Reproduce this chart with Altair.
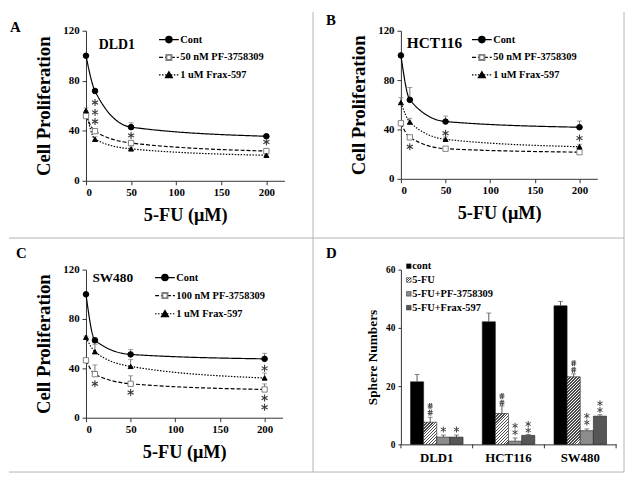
import altair as alt
import pandas as pd

FONT = "Liberation Serif"

# ---------------- data ----------------
doses = [0, 10, 50, 200]
series_keys = ["Cont", "PF", "Frax"]

A_legend = ["Cont", "50 nM PF-3758309", "1 uM Frax-597"]
A_cont = [100, 71.8, 42.9, 35.6]
A_cont_err = [0, 1.5, 3.5, 1.0]
A_pf = [51.8, 39.7, 30.2, 23.8]
A_pf_err = [2.0, 1.5, 1.5, 1.5]
A_frax = [56.2, 33.2, 25.5, 20.4]
A_frax_err = [2.0, 2.0, 1.5, 1.0]
A_star_x = [10, 10, 10, 50, 200]
A_star_y = [62.6, 54.7, 47.4, 36.3, 31.0]

B_legend = ["Cont", "50 nM PF-3758309", "1 uM Frax-597"]
B_cont = [100, 64.0, 46.4, 41.8]
B_cont_err = [0, 10.0, 4.5, 5.0]
B_pf = [45.0, 33.6, 24.4, 21.6]
B_pf_err = [1.0, 1.0, 1.0, 1.0]
B_frax = [61.8, 46.0, 32.0, 26.0]
B_frax_err = [4.0, 3.0, 2.0, 2.0]
B_star_x = [10, 50, 200]
B_star_y = [26.0, 37.0, 33.0]

C_legend = ["Cont", "100 nM PF-3758309", "1 uM Frax-597"]
C_cont = [100, 62.7, 51.3, 47.7]
C_cont_err = [0, 2.0, 4.0, 4.5]
C_pf = [46.5, 35.3, 27.5, 22.9]
C_pf_err = [1.0, 7.5, 6.5, 4.5]
C_frax = [65.2, 53.5, 41.6, 32.2]
C_frax_err = [1.0, 6.0, 5.5, 4.0]
C_star_x = [10, 50, 200, 200, 200]
C_star_y = [27.5, 20.5, 40.0, 16.0, 8.5]

cell_lines = ["DLD1", "HCT116", "SW480"]
treatments = ["cont", "5-FU", "5-FU+PF-3758309", "5-FU+Frax-597"]
sph_cont = [21.5, 42.1, 47.6]
sph_cont_err = [2.5, 3.0, 1.5]
sph_5fu = [7.6, 10.6, 23.2]
sph_5fu_err = [1.7, 2.6, 1.0]
sph_pf = [2.5, 1.1, 4.7]
sph_pf_err = [0.7, 1.1, 0.6]
sph_frax = [2.5, 3.1, 9.7]
sph_frax_err = [0.7, 0.3, 0.5]

ann_cell = ["DLD1", "DLD1", "DLD1", "DLD1",
            "HCT116", "HCT116", "HCT116", "HCT116", "HCT116", "HCT116",
            "SW480", "SW480", "SW480", "SW480", "SW480", "SW480"]
ann_treat = ["5-FU", "5-FU", "5-FU+PF-3758309", "5-FU+Frax-597",
             "5-FU", "5-FU", "5-FU+PF-3758309", "5-FU+PF-3758309", "5-FU+Frax-597", "5-FU+Frax-597",
             "5-FU", "5-FU", "5-FU+PF-3758309", "5-FU+PF-3758309", "5-FU+Frax-597", "5-FU+Frax-597"]
ann_y = [13.2, 10.9, 5.1, 5.1,
         16.6, 14.3, 6.4, 4.1, 7.0, 4.8,
         27.9, 25.6, 9.8, 7.5, 14.1, 11.8]
ann_sym = ["#", "#", "*", "*",
           "#", "#", "*", "*", "*", "*",
           "#", "#", "*", "*", "*", "*"]

FRAME = "#b3b3b3"
AXC = "#333333"
STAR_PATH = "M0,-1L0,1M-0.87,-0.5L0.87,0.5M-0.87,0.5L0.87,-0.5"
HASH_PATH = "M-0.2,-1L-0.4,1M0.4,-1L0.2,1M-0.85,-0.33L0.85,-0.33M-0.85,0.33L0.85,0.33"
TREAT_FILL = {"cont": "#000000", "5-FU+PF-3758309": "#8c8c8c", "5-FU+Frax-597": "#565656"}


def one():
    return pd.DataFrame({"k": [0]})


def hatch(w, h, period=3.0, frac=0.45, dark="#4a4a4a", light="#ffffff"):
    r = h / w
    s = (1 + r) / (1 + r * r)
    n = max(1, int(round((w + h) / period)))
    pt = 1.0 / n
    stops = []
    for k in range(n):
        t0 = k * pt
        t1 = t0 + pt * frac
        t2 = min(1.0, t0 + pt)
        stops += [{"offset": round(t0, 5), "color": dark}, {"offset": round(t1, 5), "color": dark},
                  {"offset": round(t1, 5), "color": light}, {"offset": round(t2, 5), "color": light}]
    return {"gradient": "linear", "x1": 0, "y1": 0, "x2": s, "y2": s * r, "stops": stops}


def frame_rule(x, y, x2=None, y2=None):
    enc = dict(x=alt.value(x), y=alt.value(y))
    if x2 is not None:
        enc["x2"] = alt.value(x2)
    if y2 is not None:
        enc["y2"] = alt.value(y2)
    return alt.Chart(one()).mark_rule(color=FRAME, strokeWidth=1).encode(**enc)


def label_text(txt, x, y, size, align="left"):
    return alt.Chart(one()).mark_text(
        text=txt, font=FONT, fontWeight="bold", fontSize=size, color="black",
        align=align, baseline="middle"
    ).encode(x=alt.value(x), y=alt.value(y))


DASHES = {"Cont": [1, 0], "PF": [4, 2], "Frax": [1.5, 1.5]}
SHAPES = {"Cont": "circle", "PF": "square", "Frax": "triangle-up"}
FILLS = {"Cont": "black", "PF": "white", "Frax": "black"}
STROKES = {"Cont": "black", "PF": "#808080", "Frax": "black"}
SIZES = {"Cont": 32, "PF": 26, "Frax": 34}


def line_panel(W, H, letter, letter_xy, cell, cell_xy, cell_size,
               legend_labels, leg_x, leg_rows,
               cont, cont_err, pf, pf_err, frax, frax_err, star_x, star_y, extras):
    rows = []
    for key, vals, errs in (("Cont", cont, cont_err), ("PF", pf, pf_err), ("Frax", frax, frax_err)):
        for d, v, e in zip(doses, vals, errs):
            rows.append({"dose": d, "value": v, "err": e, "top": v + e, "series": key})
    df = pd.DataFrame(rows)
    df_err = df[df["err"] > 0]

    x = alt.X("dose:Q", scale=alt.Scale(domain=[0, 220], nice=False),
              axis=alt.Axis(values=[0, 50, 100, 150, 200], title="5-FU (μM)",
                            titleFont=FONT, titleFontSize=18.5, titleFontWeight="bold", titleColor="black",
                            titleX=W / 2, titleY=34, titleBaseline="middle", titleAlign="center",
                            labelFont=FONT, labelFontSize=11, labelFontWeight="bold", labelColor="black",
                            labelPadding=2, tickSize=4, tickColor=AXC, domainColor=AXC, grid=False))
    y = alt.Y("value:Q", scale=alt.Scale(domain=[0, 120], nice=False),
              axis=alt.Axis(values=[0, 20, 40, 60, 80, 100, 120], title="Cell Proliferation",
                            titleFont=FONT, titleFontSize=19, titleFontWeight="bold", titleColor="black",
                            titleX=-43, titleY=H / 2, titleAngle=270, titleBaseline="middle", titleAlign="center",
                            labelFont=FONT, labelFontSize=11, labelFontWeight="bold", labelColor="black",
                            labelPadding=3, tickSize=4, tickColor=AXC, domainColor=AXC, grid=False))

    dash = alt.StrokeDash("series:N", scale=alt.Scale(domain=series_keys, range=[DASHES[k] for k in series_keys]), legend=None)
    shape = alt.Shape("series:N", scale=alt.Scale(domain=series_keys, range=[SHAPES[k] for k in series_keys]), legend=None)
    fill = alt.Fill("series:N", scale=alt.Scale(domain=series_keys, range=[FILLS[k] for k in series_keys]), legend=None)
    stroke = alt.Stroke("series:N", scale=alt.Scale(domain=series_keys, range=[STROKES[k] for k in series_keys]), legend=None)
    size = alt.Size("series:N", scale=alt.Scale(domain=series_keys, range=[SIZES[k] for k in series_keys]), legend=None)

    err_rule = alt.Chart(df_err).mark_rule(color="#777777", strokeWidth=1).encode(x=x, y=y, y2="top:Q")
    err_cap = alt.Chart(df_err).mark_tick(orient="horizontal", size=5, thickness=1, color="#777777").encode(
        x=x, y=alt.Y("top:Q"))
    line = alt.Chart(df).mark_line(interpolate="monotone", color="black", strokeWidth=1.2).encode(
        x=x, y=y, strokeDash=dash, order="dose:Q")
    pts = alt.Chart(df).mark_point(filled=True, opacity=1, strokeWidth=1).encode(
        x=x, y=y, shape=shape, fill=fill, stroke=stroke, size=size)
    stars = alt.Chart(pd.DataFrame({"dose": star_x, "value": star_y})).mark_point(
        shape=STAR_PATH, filled=False, size=50, stroke="#3a3a3a", strokeWidth=1.1, opacity=1).encode(x=x, y=y)

    layers = [err_rule, err_cap, line, pts, stars]

    for key, lab, ry in zip(series_keys, legend_labels, leg_rows):
        layers.append(alt.Chart(one()).mark_rule(color="black", strokeWidth=1.2, strokeDash=DASHES[key]).encode(
            x=alt.value(leg_x), x2=alt.value(leg_x + 20), y=alt.value(ry)))
        layers.append(alt.Chart(one()).mark_point(shape=SHAPES[key], filled=True, fill=FILLS[key],
                                                  stroke=STROKES[key], size=SIZES[key], opacity=1).encode(
            x=alt.value(leg_x + 10), y=alt.value(ry)))
        layers.append(alt.Chart(pd.DataFrame({"label": [lab]})).mark_text(
            font=FONT, fontWeight="bold", fontSize=10.5, color="black", align="left", baseline="middle").encode(
            x=alt.value(leg_x + 21.5), y=alt.value(ry), text="label:N"))

    layers.append(label_text(letter, letter_xy[0], letter_xy[1], 15))
    layers.append(label_text(cell, cell_xy[0], cell_xy[1], cell_size))
    layers.extend(extras)
    return alt.layer(*layers).properties(width=W, height=H)


A = line_panel(201, 152, "A", (-77, -4), "DLD1", (13, 14.5), 14, A_legend, 74, [9, 27, 44.7],
               A_cont, A_cont_err, A_pf, A_pf_err, A_frax, A_frax_err, A_star_x, A_star_y,
               [frame_rule(230, -19, y2=447), frame_rule(-78, 210, x2=545)])
B = line_panel(199, 150, "B", (-76, -10.5), "HCT116", (6, 12.5), 15.5, B_legend, 72, [9, 27, 44.7],
               B_cont, B_cont_err, B_pf, B_pf_err, B_frax, B_frax_err, B_star_x, B_star_y,
               [frame_rule(226, -19, y2=447)])
C = line_panel(199, 150, "C", (-71, -17), "SW480", (6.5, 9), 13.5, C_legend, 70, [8, 26.3, 44.7],
               C_cont, C_cont_err, C_pf, C_pf_err, C_frax, C_frax_err, C_star_x, C_star_y,
               [frame_rule(-78, 205, x2=545)])

# ---------------- panel D ----------------
WD, HD = 218, 177
YMAX_D = 60
PAD_OUT = 0.73
drows = []
for t, vals, errs in ((treatments[0], sph_cont, sph_cont_err), (treatments[1], sph_5fu, sph_5fu_err),
                      (treatments[2], sph_pf, sph_pf_err), (treatments[3], sph_frax, sph_frax_err)):
    for c, v, e in zip(cell_lines, vals, errs):
        drows.append({"cell": c, "treat": t, "value": v, "top": v + e})
ddf = pd.DataFrame(drows)
adf = pd.DataFrame({"cell": ann_cell, "treat": ann_treat, "value": ann_y, "sym": ann_sym})

xd = alt.X("cell:N", sort=cell_lines, scale=alt.Scale(domain=cell_lines, paddingInner=0, paddingOuter=0),
           axis=alt.Axis(title=None, labelAngle=0, labelFont=FONT, labelFontSize=13, labelFontWeight="bold",
                         labelColor="black", ticks=False, labelPadding=7, domainColor=AXC))
xo = alt.XOffset("treat:N", sort=treatments,
                 scale=alt.Scale(domain=treatments, paddingInner=0, paddingOuter=PAD_OUT))
yd = alt.Y("value:Q", scale=alt.Scale(domain=[0, YMAX_D], nice=False),
           axis=alt.Axis(values=[0, 10, 20, 30, 40, 50, 60], title="Sphere Numbers",
                         titleFont=FONT, titleFontSize=13.5, titleFontWeight="bold", titleColor="black",
                         titleX=-29, titleY=HD / 2, titleAngle=270, titleBaseline="middle", titleAlign="center",
                         labelFont=FONT, labelFontSize=9.5, labelFontWeight="bold", labelColor="black",
                         labelPadding=3, tickSize=3, tickColor=AXC, domainColor=AXC, grid=False))

bar_w = (WD / len(cell_lines)) / (len(treatments) + 2 * PAD_OUT)

d_layers = []
for t in treatments:
    if t == "5-FU":
        for c, v in zip(cell_lines, sph_5fu):
            h = v * HD / YMAX_D
            d_layers.append(
                alt.Chart(ddf).transform_filter((alt.datum.cell == c) & (alt.datum.treat == t))
                .mark_bar(fill=hatch(bar_w, h), stroke="#222222", strokeWidth=0.6)
                .encode(x=xd, xOffset=xo, y=yd))
    else:
        d_layers.append(
            alt.Chart(ddf).transform_filter(alt.datum.treat == t)
            .mark_bar(fill=TREAT_FILL[t], stroke="#222222", strokeWidth=0.6)
            .encode(x=xd, xOffset=xo, y=yd))

d_err = alt.Chart(ddf).mark_rule(color="#555555").encode(x=xd, xOffset=xo, y=yd, y2="top:Q")
d_cap = alt.Chart(ddf).mark_tick(orient="horizontal", size=5, thickness=1, color="#555555").encode(
    x=xd, xOffset=xo, y=alt.Y("top:Q"))
hashes = alt.Chart(adf).transform_filter(alt.datum.sym == "#").mark_point(
    shape=HASH_PATH, filled=False, size=36, stroke="#444444", strokeWidth=1, opacity=1).encode(
    x=xd, xOffset=xo, y=yd)
astars = alt.Chart(adf).transform_filter(alt.datum.sym == "*").mark_point(
    shape=STAR_PATH, filled=False, size=36, stroke="#444444", strokeWidth=1, opacity=1).encode(
    x=xd, xOffset=xo, y=yd)
tick0 = alt.Chart(pd.DataFrame({"cell": cell_lines})).mark_rule(color=AXC).encode(
    x=alt.X("cell:N", sort=cell_lines, bandPosition=0), y=alt.value(HD), y2=alt.value(HD + 4))
tick1 = alt.Chart(pd.DataFrame({"cell": cell_lines[-1:]})).mark_rule(color=AXC).encode(
    x=alt.X("cell:N", sort=cell_lines, bandPosition=1), y=alt.value(HD), y2=alt.value(HD + 4))

d_layers += [d_err, d_cap, hashes, astars, tick0, tick1]
for t, ry in zip(treatments, [-3.5, 10.5, 24.5, 38.5]):
    sq_fill = hatch(4.7, 4.7, period=2.4) if t == "5-FU" else TREAT_FILL[t]
    d_layers.append(alt.Chart(one()).mark_square(
        size=22, stroke="#222222", strokeWidth=0.5, opacity=1, fill=sq_fill).encode(
        x=alt.value(8), y=alt.value(ry)))
    d_layers.append(alt.Chart(pd.DataFrame({"treat": [t]})).mark_text(
        font=FONT, fontWeight="bold", fontSize=10.5, color="black", align="left", baseline="middle").encode(
        x=alt.value(11.5), y=alt.value(ry), text="treat:N"))
d_layers.append(label_text("D", -76, -17, 15))
D = alt.layer(*d_layers).properties(width=WD, height=HD)

chart = alt.concat(A, B, C, D, columns=2).properties(
    spacing={"row": 90, "column": 118}, bounds="flush", align="each", padding=0, background="white"
).configure_view(strokeWidth=0)

chart.save("out.html", embed_options={"renderer": "svg", "actions": False})
